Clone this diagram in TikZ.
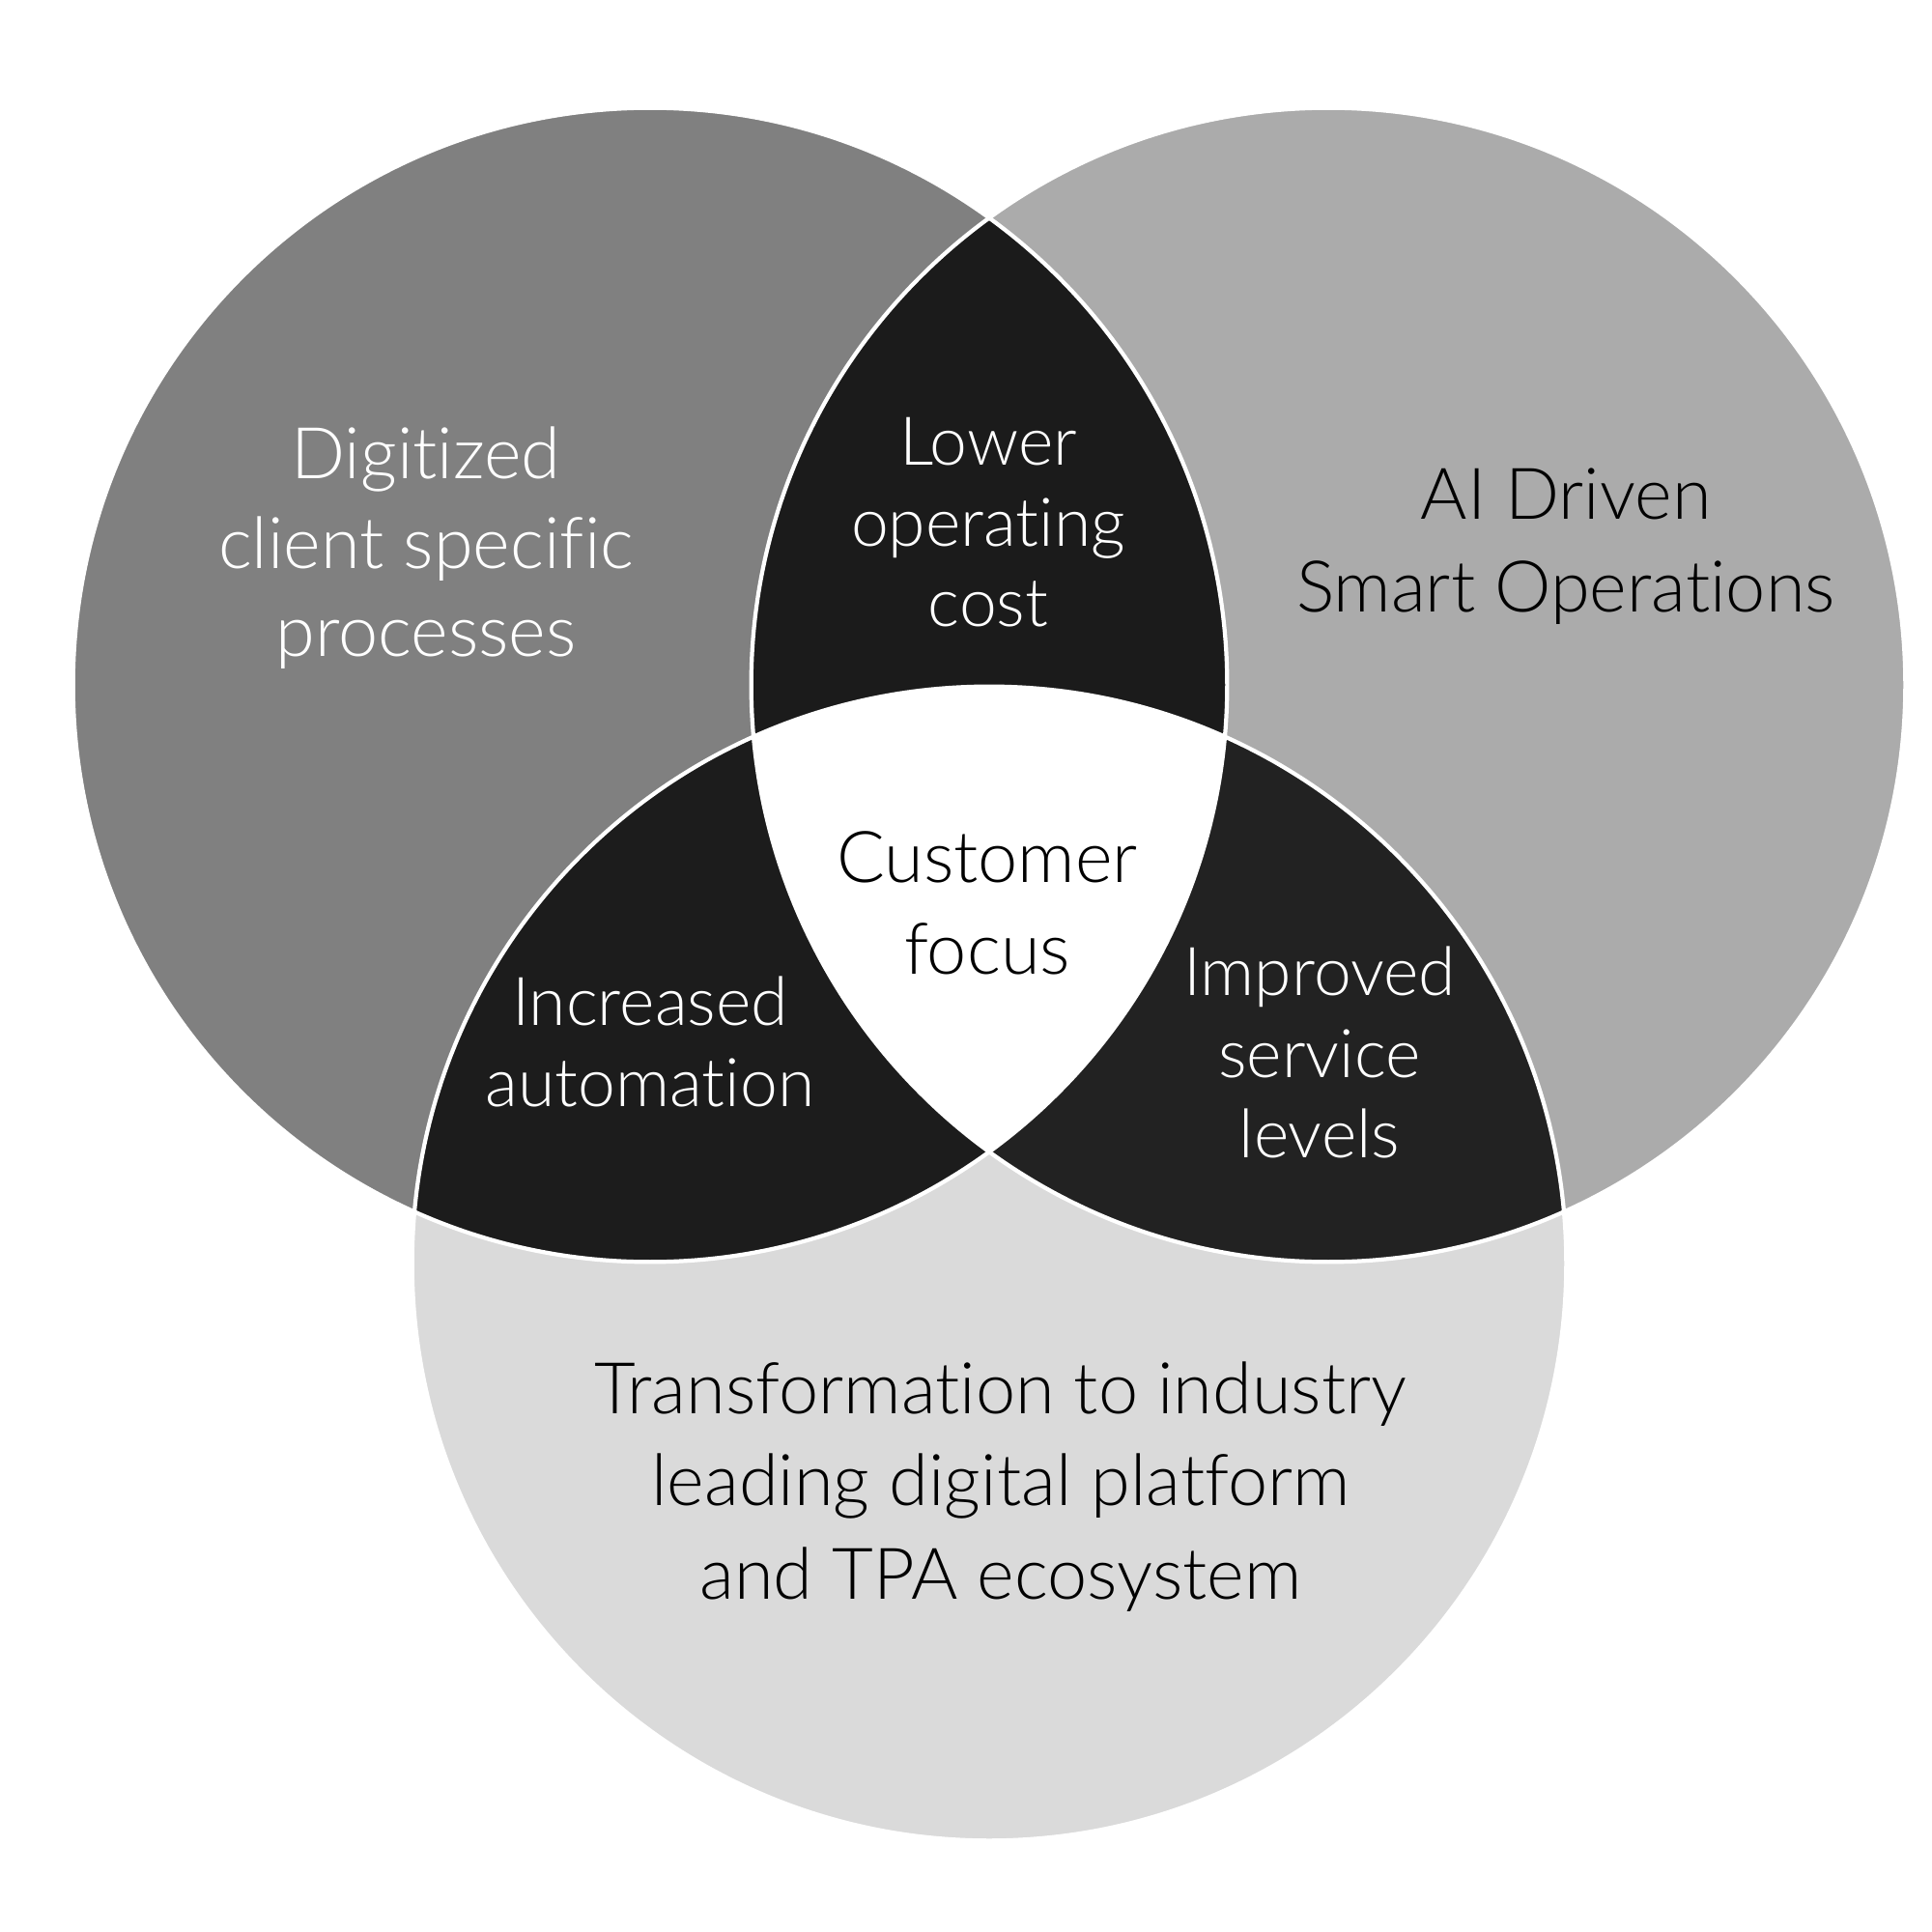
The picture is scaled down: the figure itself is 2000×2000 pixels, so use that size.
\documentclass[tikz,border=0pt]{standalone}
\usepackage{fontspec}
\setmainfont{Lato}[UprightFont={* Light}, Ligatures={NoCommon}]
\definecolor{cL}{HTML}{808080}
\definecolor{cR}{HTML}{ABABAB}
\definecolor{cB}{HTML}{DADADA}
\definecolor{dTop}{HTML}{1B1B1B}
\definecolor{dLeft}{HTML}{1C1C1C}
\definecolor{dRight}{HTML}{222222}
\tikzset{
  lbl/.style={inner sep=0pt, anchor=base, font=\fontsize{21}{25}\selectfont},
  lblw/.style={lbl, text=white},
  lblk/.style={lbl, text=black},
  lbls/.style={lbl, text=white, font=\fontsize{19.8}{24}\selectfont},
  rim/.style={draw=white, line width=1.2pt}
}
\begin{document}
\begin{tikzpicture}[x=0.01cm,y=-0.01cm]
\useasboundingbox (0,0) rectangle (2000,2000);
\coordinate (L) at (673,709);
\coordinate (R) at (1375,709);
\coordinate (B) at (1024,1308);
\def\rr{5.97cm}
\fill[cL] (L) circle (\rr);
\fill[cR] (R) circle (\rr);
\fill[cB] (B) circle (\rr);
\begin{scope}
  \clip (L) circle (\rr);
  \fill[dTop] (R) circle (\rr);
  \fill[dLeft] (B) circle (\rr);
\end{scope}
\begin{scope}
  \clip (R) circle (\rr);
  \fill[dRight] (B) circle (\rr);
\end{scope}
\begin{scope}
  \clip (L) circle (\rr);
  \clip (R) circle (\rr);
  \fill[white] (B) circle (\rr);
\end{scope}
\draw[rim] (L) circle (\rr);
\draw[rim] (R) circle (\rr);
\draw[rim] (B) circle (\rr);
% texts
\node[lblw] (d1) at (441,495) {Digitized};
\node[lblw] (d2) at (441,588) {client specific};
\node[lblw] (d3) at (441,679) {processes};
\node[lblk] (a1) at (1621,537) {AI Driven};
\node[lblk] (a2) at (1621,633) {Smart Operations};
\node[lbls] (l1) at (1023,481) {Lower};
\node[lbls] (l2) at (1023,565) {operating};
\node[lbls] (l3) at (1023,648) {cost};
\node[lblk] (c1) at (1022,913) {Customer};
\node[lblk] (c2) at (1022,1008) {focus};
\node[lbls] (i1) at (673,1061) {Increased};
\node[lbls] (i2) at (673,1145) {automation};
\node[lbls] (s1) at (1366,1030) {Improved};
\node[lbls] (s2) at (1366,1115) {service};
\node[lbls] (s3) at (1366,1198) {levels};
\node[lblk] (t1) at (1036,1463) {Transformation to industry};
\node[lblk] (t2) at (1036,1558) {leading digital platform};
\node[lblk] (t3) at (1036,1655) {and TPA ecosystem};
\end{tikzpicture}
\end{document}
